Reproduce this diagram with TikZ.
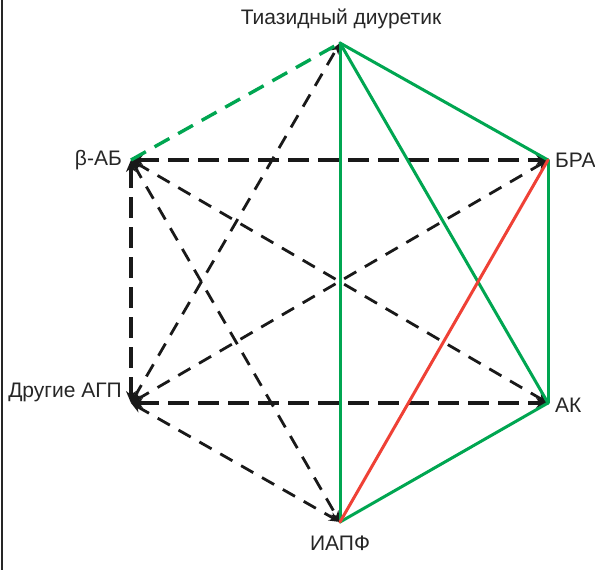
\documentclass[tikz,border=0pt]{standalone}
\usepackage{fontspec}
\setmainfont{Liberation Sans}
\usetikzlibrary{arrows.meta}
\definecolor{lgreen}{RGB}{0,166,81}
\definecolor{lred}{RGB}{239,65,54}
\tikzset{
  lbl/.style={inner sep=0pt, font=\fontsize{21}{24}\selectfont, text=black!85},
  thickdash/.style={draw=black!90, line width=4.2pt, dash pattern=on 21pt off 9pt, {Stealth[length=12pt,width=10pt]}-{Stealth[length=12pt,width=10pt]}},
  thindash/.style={draw=black!90, line width=2.8pt, dash pattern=on 14pt off 10pt, {Stealth[length=11pt,width=9pt]}-{Stealth[length=11pt,width=9pt]}},
  greenline/.style={draw=lgreen, line width=3pt, line cap=round},
  greendash/.style={draw=lgreen, line width=3.4pt, dash pattern=on 17pt off 10pt},
  redline/.style={draw=lred, line width=3pt, line cap=round},
}
\begin{document}
\begin{tikzpicture}[x=1pt,y=-1pt]
\useasboundingbox (0,0) rectangle (595,570);
\draw[black!85, line width=2pt] (2,0) -- (2,570);
% points
\coordinate (T) at (340,43);
\coordinate (B) at (131,160);
\coordinate (R) at (548,160);
\coordinate (D) at (131,403);
\coordinate (K) at (548,403);
\coordinate (I) at (340,522);
% labels
\node[lbl, anchor=south] (tl) at (341,29) {Тиазидный диуретик};
\node[lbl, anchor=east] (bl) at (122,160) {β-АБ};
\node[lbl, anchor=west] (rl) at (555,160) {БРА};
\node[lbl, anchor=east] (dl) at (122,392) {Другие АГП};
\node[lbl, anchor=west] (kl) at (555,405) {АК};
\node[lbl, anchor=north] (il) at (340,536) {ИАПФ};
% black dashed
\draw[thickdash] (B) -- (R);
\draw[thickdash] (B) -- (D);
\draw[thickdash] (D) -- (K);
\draw[thindash] (B) -- (K);
\draw[thindash] (D) -- (R);
\draw[thindash] (B) -- (I);
\draw[thindash] (D) -- (I);
\draw[thindash] (D) -- (T);
% green
\draw[greendash] (B) -- (T);
\draw[greenline] (T) -- (I);
\draw[greenline] (T) -- (R);
\draw[greenline] (T) -- (K);
\draw[greenline] (R) -- (K);
\draw[greenline] (K) -- (I);
% red
\draw[redline] (R) -- (I);
\end{tikzpicture}
\end{document}
